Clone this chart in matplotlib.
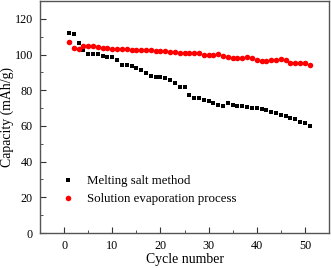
import numpy as np
import matplotlib
matplotlib.use('Agg')
import matplotlib.pyplot as plt
from matplotlib.ticker import MultipleLocator

# Capacity values (cycles 1-51)
cycles = np.arange(1, 52)
melting_salt = [112.2, 111.4, 106.2, 102.6, 100.2, 100.2, 100.2, 99.4, 98.7, 98.5,
                96.8, 94.4, 94.2, 93.3, 92.3, 91.2, 89.5, 88.1, 87.3, 87.3,
                86.8, 86.0, 84.3, 81.9, 81.9, 77.2, 75.5, 75.7, 74.6, 74.2,
                73.1, 71.6, 71.2, 72.9, 71.6, 71.4, 71.1, 70.5, 70.1, 69.9,
                69.4, 68.8, 67.9, 67.1, 66.2, 65.6, 64.7, 63.8, 62.4, 61.5,
                59.8]
solution_evap = [106.9, 103.9, 103.2, 104.7, 104.7, 104.7, 104.1, 103.9, 103.6, 103.2,
                 103.2, 103.2, 103.0, 102.8, 102.6, 102.4, 102.4, 102.3, 102.1, 102.1,
                 101.9, 101.7, 101.5, 101.1, 101.0, 100.8, 100.6, 100.6, 99.5, 100.0,
                 99.6, 100.2, 99.3, 98.4, 98.0, 98.0, 98.3, 98.5, 97.8, 96.8,
                 96.3, 96.1, 96.8, 97.2, 97.5, 97.2, 95.5, 95.2, 95.2, 95.2,
                 94.2]

plt.rcParams['font.family'] = ['Liberation Serif', 'DejaVu Serif']
plt.rcParams['font.size'] = 9

fig = plt.figure(figsize=(3.31, 2.68), dpi=100)
ax = fig.add_axes([40 / 331, 1 - 233 / 268, 289 / 331, 232 / 268])

ax.plot(cycles, melting_salt, 's', color='black', ms=3.5, mew=0,
        label='Melting salt method')
ax.plot(cycles, solution_evap, 'o', color='red', ms=4.0, mew=0,
        label='Solution evaporation process')

ax.set_xlim(-5, 55)
ax.set_ylim(0, 130)
ax.xaxis.set_major_locator(MultipleLocator(10))
ax.xaxis.set_minor_locator(MultipleLocator(5))
ax.yaxis.set_major_locator(MultipleLocator(20))
ax.yaxis.set_minor_locator(MultipleLocator(10))
ax.tick_params(which='both', direction='in', top=False, right=False,
               color='#333333', labelsize=8.7)
ax.tick_params(which='major', length=4, width=0.8, pad=5)
ax.tick_params(which='minor', length=2, width=0.6)
for s in ax.spines.values():
    s.set_color('#555555')
    s.set_linewidth(1.0)

ax.set_xlabel('Cycle number', fontsize=9.9)
ax.set_ylabel('Capacity (mAh/g)', fontsize=9.9)
ax.xaxis.set_label_coords(0.5, -0.088)
ax.yaxis.set_label_coords(-0.09, 0.5)

ax.legend(loc='lower left', bbox_to_anchor=(0.055, 0.097), frameon=False,
          fontsize=9.3, handletextpad=1.0, labelspacing=0.45,
          borderaxespad=0, handlelength=1.0)

fig.savefig('out.png', dpi=100)
